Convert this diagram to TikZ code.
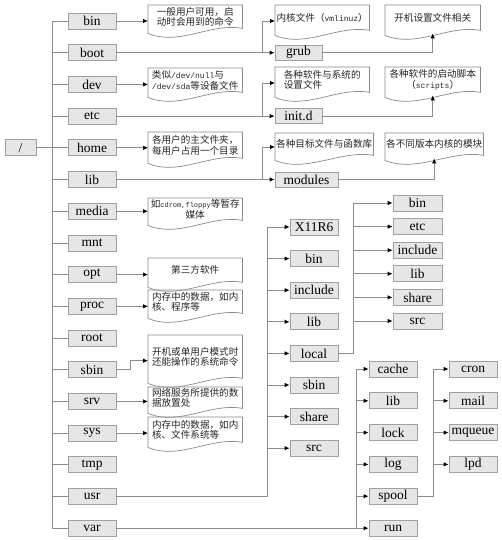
\documentclass[tikz,border=0pt]{standalone}
\usepackage{fontspec}
\setmainfont{Liberation Serif}
\newfontfamily\cjk{Noto Sans CJK SC}
\newfontfamily\monofnt{Liberation Mono}
\usetikzlibrary{arrows.meta,calc}
\definecolor{boxfill}{HTML}{E6E6E6}
\definecolor{boxborder}{HTML}{A0A0A0}
\definecolor{linegray}{HTML}{8C8C8C}
\definecolor{darkline}{HTML}{5A5A5A}
\definecolor{noteborder}{HTML}{8A8A8A}
\newcommand\mo[1]{{\monofnt\fontsize{8}{10}\selectfont #1}}
\newcommand\mos[1]{{\monofnt\fontsize{7}{10}\selectfont #1}}
\tikzset{
  dirbox/.style={draw=boxborder, fill=boxfill, line width=0.8pt, minimum width=48pt, minimum height=16pt,
    inner sep=0pt, font=\fontsize{13.5}{14}\selectfont},
  conn/.style={draw=linegray, line width=0.8pt},
  darkconn/.style={draw=darkline, line width=1.1pt},
  arr/.style={conn, -{Latex[length=5pt,width=4.5pt,color=black]}},
  notetext/.style={inner xsep=1pt, inner ysep=0.5pt, font=\cjk\fontsize{9.6}{10.5}\selectfont, text=black!85},
  noteline/.style={draw=noteborder, line width=0.7pt}
}
% name, x0, y0, x1, yb, align, text
\newcommand\docnote[7]{%
  \node[notetext, align=#6, minimum width={(#4-#2)*1pt}, minimum height={(#5-#3)*1pt}, anchor=north west] (#1) at (#2,#3) {#7};
  \draw[noteline] (#1.north west) -- (#1.north east) -- (#1.south east)
    .. controls ($(#1.south east)+({-(#4-#2)/3},-6)$) and ($(#1.south west)+({(#4-#2)/3},18)$) .. ($(#1.south west)+(0,5)$) -- cycle;
}
\begin{document}
\begin{tikzpicture}[x=1pt,y=-1pt]
\useasboundingbox[fill=white] (0,0) rectangle (501,540);

% root
\node[dirbox, minimum width=31pt] (root) at (20.5,147.8) {/};

% level 1
\node[dirbox] (bin) at (92,21) {bin};
\node[dirbox] (boot) at (92,52.7) {boot};
\node[dirbox] (dev) at (92,84.4) {dev};
\node[dirbox] (etc) at (92,116.1) {etc};
\node[dirbox] (home) at (92,147.8) {home};
\node[dirbox] (lib) at (92,179.5) {lib};
\node[dirbox] (media) at (92,211.2) {media};
\node[dirbox] (mnt) at (92,242.9) {mnt};
\node[dirbox] (opt) at (92,274.6) {opt};
\node[dirbox] (proc) at (92,306.3) {proc};
\node[dirbox] (rootdir) at (92,338) {root};
\node[dirbox] (sbin) at (92,369.7) {sbin};
\node[dirbox] (srv) at (92,401.4) {srv};
\node[dirbox] (sys) at (92,433.1) {sys};
\node[dirbox] (tmp) at (92,464.8) {tmp};
\node[dirbox] (usr) at (92,496.5) {usr};
\node[dirbox] (var) at (92,528.2) {var};

\foreach \c in {bin,boot,dev,etc,home,lib,media,mnt,opt,proc,rootdir,sbin,srv,sys,tmp,usr,var}
  \draw[conn] (root.east) -- ++(15.5,0) |- (\c.west);

% level-1 notes
\docnote{binnote}{148}{5}{242}{28}{left}{一般用户可用，启\\动时会用到的命令}
\docnote{devnote}{148}{68}{242}{92}{left}{类似\mo{/dev/null}与\\\mo{/dev/sda}等设备文件}
\docnote{homenote}{148}{132}{242}{158}{left}{各用户的主文件夹，\\每用户占用一个目录}
\docnote{medianote}{148}{198}{242}{220}{center}{如\mos{cdrom,floppy}等暂存\\媒体}
\docnote{optnote}{148}{258}{242}{282}{center}{第三方软件}
\docnote{procnote}{148}{290}{242}{313}{left}{内存中的数据，如内\\核、程序等}
\docnote{sbinnote}{148}{335}{242}{378}{center}{开机或单用户模式时\\还能操作的系统命令}
\docnote{srvnote}{148}{387}{242}{408}{left}{网络服务所提供的数\\据放置处}
\docnote{sysnote}{148}{417}{242}{442}{left}{内存中的数据，如内\\核、文件系统等}

\draw[arr] (bin.east) -- (bin.east -| binnote.west);
\draw[arr] (dev.east) -- (dev.east -| devnote.west);
\draw[arr] (home.east) -- (home.east -| homenote.west);
\draw[arr] (media.east) -- (media.east -| medianote.west);
\draw[arr] (opt.east) -- (opt.east -| optnote.west);
\draw[arr] (proc.east) -- (proc.east -| procnote.west);
\draw[arr] (sbin.east) -- ++(14,0) |- ($(sbinnote.west)+(0,4)$);
\draw[arr] (srv.east) -- (srv.east -| srvnote.west);
\draw[arr] (sys.east) -- (sys.east -| sysnote.west);

% boot / etc / lib subtrees
\node[dirbox, minimum width=47pt, minimum height=15pt] (grub) at (298.5,52.7) {grub};
\node[dirbox, minimum width=47pt, minimum height=15pt] (initd) at (298.5,116.1) {init.d};
\node[dirbox, minimum width=63pt, minimum height=15pt] (modules) at (306.5,179.5) {modules};

\docnote{kern}{275}{5}{369}{30}{left}{内核文件（\mo{vmlinuz}）}
\docnote{bootnote}{385}{5}{480}{30}{center}{开机设置文件相关}
\docnote{etcnote}{275}{67}{369}{92}{left}{各种软件与系统的\\设置文件}
\docnote{initnote}{385}{67}{480}{92}{center}{各种软件的启动脚本\\（\mo{scripts}）}
\docnote{libnote}{275}{133}{369}{155}{left}{各种目标文件与函数库}
\docnote{modnote}{385}{133}{480}{155}{center}{各不同版本内核的模块}

\draw[arr] (boot.east) -- (grub.west);
\draw[arr] (boot.east) -- ++(146,0) |- ($(kern.north west)+(0,16)$);
\draw[arr] (etc.east) -- (initd.west);
\draw[arr] (etc.east) -- ++(146,0) |- ($(etcnote.north west)+(0,16)$);
\draw[arr] (lib.east) -- (modules.west);
\draw[arr] (lib.east) -- ++(146,0) |- ($(libnote.north west)+(0,14)$);
\draw[arr] (grub.east) -| ($(bootnote.south)+(0,3)$);
\draw[arr] (initd.east) -| ($(initnote.south)+(0,3)$);
\draw[arr] (modules.east) -| ($(modnote.south)+(0,3)$);

% usr subtree
\node[dirbox] (x11) at (314,227) {X11R6};
\node[dirbox] (ubin) at (314,258.6) {bin};
\node[dirbox] (uinclude) at (314,290.2) {include};
\node[dirbox] (ulib) at (314,321.8) {lib};
\node[dirbox] (local) at (314,353.4) {local};
\node[dirbox] (usbin) at (314,385) {sbin};
\node[dirbox] (ushare) at (314,416.6) {share};
\node[dirbox] (usrc) at (314,448.2) {src};
\draw[darkconn] (usr.east) -- ++(151,0);
\foreach \c in {x11,ubin,uinclude,ulib,local,usbin,ushare,usrc}
  \draw[arr] (usr.east) -- ++(151,0) |- (\c.west);

% local subtree
\node[dirbox, minimum width=49pt] (lbin) at (417.5,203) {bin};
\node[dirbox, minimum width=49pt] (letc) at (417.5,226.6) {etc};
\node[dirbox, minimum width=49pt] (linclude) at (417.5,250.2) {include};
\node[dirbox, minimum width=49pt] (llib) at (417.5,273.8) {lib};
\node[dirbox, minimum width=49pt] (lshare) at (417.5,297.4) {share};
\node[dirbox, minimum width=49pt] (lsrc) at (417.5,321) {src};
\foreach \c in {lbin,letc,linclude,llib,lshare,lsrc}
  \draw[arr] (local.east) -- ++(15,0) |- (\c.west);

% var subtree
\node[dirbox] (cache) at (393,369) {cache};
\node[dirbox] (vlib) at (393,400.8) {lib};
\node[dirbox] (lock) at (393,432.6) {lock};
\node[dirbox] (log) at (393,464.4) {log};
\node[dirbox] (spool) at (393,496.2) {spool};
\node[dirbox] (run) at (393,528.2) {run};
\draw[darkconn] (var.east) -- ++(240,0);
\foreach \c in {cache,vlib,lock,log,spool,run}
  \draw[arr] (var.east) -- ++(240,0) |- (\c.west);

% spool subtree
\node[dirbox] (cron) at (473,369) {cron};
\node[dirbox] (mail) at (473,400.8) {mail};
\node[dirbox] (mqueue) at (473,432.6) {mqueue};
\node[dirbox] (lpd) at (473,464.4) {lpd};
\foreach \c in {cron,mail,mqueue,lpd}
  \draw[arr] (spool.east) -- ++(16,0) |- (\c.west);
\end{tikzpicture}
\end{document}
